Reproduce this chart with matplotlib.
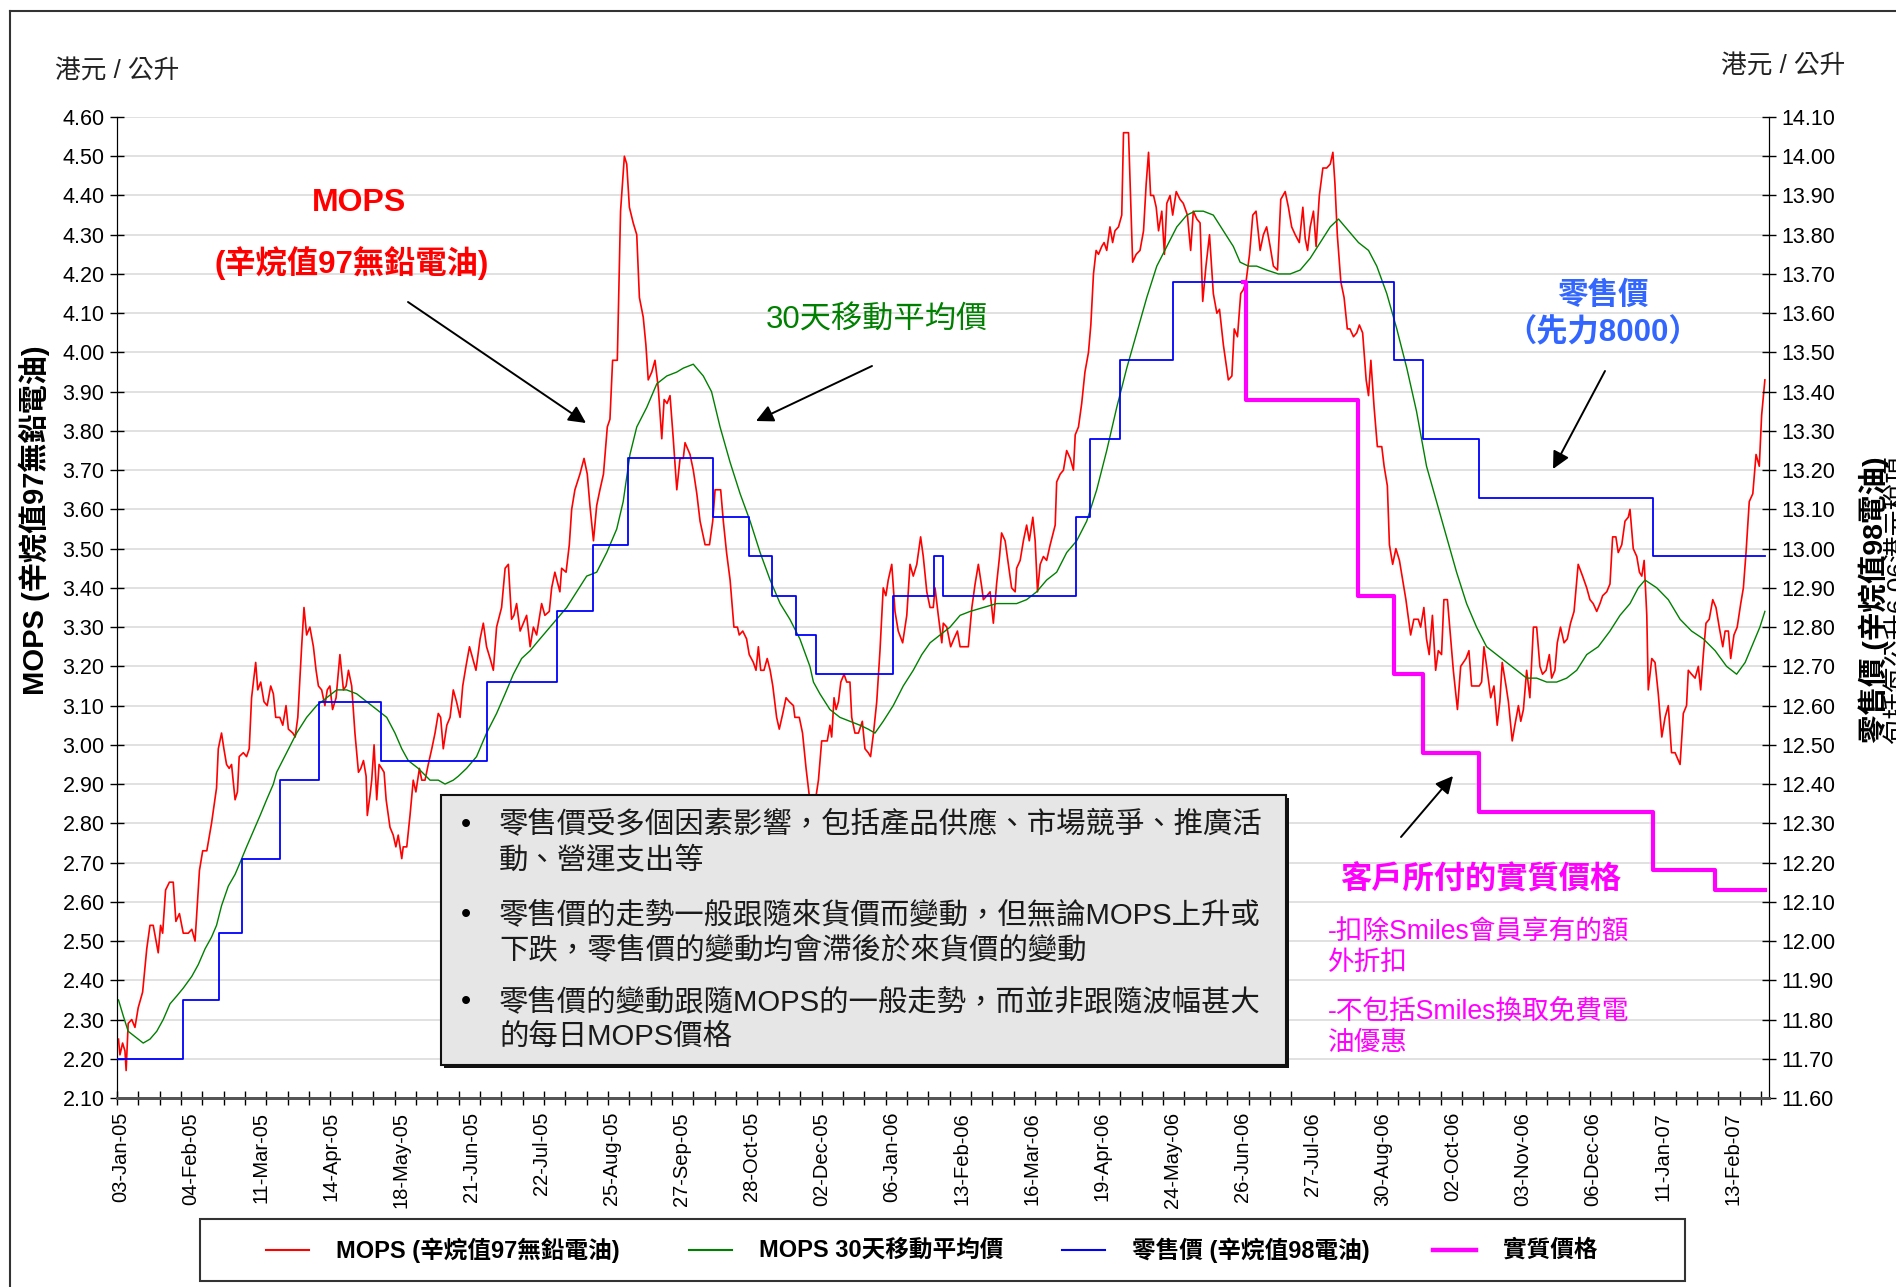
import numpy as np
import matplotlib
matplotlib.use('Agg')
import matplotlib.pyplot as plt
from matplotlib.lines import Line2D
from matplotlib.patches import Rectangle

plt.rcParams['font.family'] = ['Liberation Sans', 'Noto Sans CJK TC', 'DejaVu Sans']

W, H = 1896, 1287

date_labels = ['03-Jan-05', '04-Feb-05', '11-Mar-05', '14-Apr-05', '18-May-05', '21-Jun-05',
               '22-Jul-05', '25-Aug-05', '27-Sep-05', '28-Oct-05', '02-Dec-05', '06-Jan-06',
               '13-Feb-06', '16-Mar-06', '19-Apr-06', '24-May-06', '26-Jun-06', '27-Jul-06',
               '30-Aug-06', '02-Oct-06', '03-Nov-06', '06-Dec-06', '11-Jan-07', '13-Feb-07']

# MOPS daily price (trading-day index, HK$/litre)
mops_day = [
    0, 0.5, 1.4, 2.2, 2.6, 3.3, 4.5, 5.6, 6.7, 8.2, 9.6, 10.7, 11.8, 13.5, 14.3, 15.0, 16.0, 17.3,
    18.6, 19.5, 20.7, 22.0, 23.7, 24.9, 26.0, 27.5, 28.6, 30.0, 31.6, 33.3, 33.9, 35.0, 35.8, 36.7,
    37.6, 38.4, 39.6, 40.4, 41.0, 42.4, 43.5, 44.4, 45.2, 46.6, 47.3, 48.3, 49.4, 50.5, 51.7, 52.6,
    53.4, 54.8, 55.8, 56.9, 57.7, 59.2, 60.0, 60.9, 62.2, 63.0, 63.9, 65.0, 66.2, 67.1, 67.9, 69.0,
    70.1, 70.9, 71.8, 72.7, 73.9, 75.2, 76.4, 77.3, 78.1, 79.2, 80.3, 81.5, 82.3, 83.2, 84.1, 84.5,
    85.4, 86.0, 86.8, 87.7, 88.5, 89.4, 90.2, 90.9, 92.2, 93.3, 94.2, 95.0, 96.2, 96.7, 97.9, 99.0,
    100.1, 101.0, 102.2, 103.0, 104.1, 105.2, 106.4, 107.5, 108.6, 109.4, 110.3, 111.5, 112.6,
    113.7, 114.8, 116.0, 116.9, 118.0, 119.2, 120.3, 121.4, 122.8, 123.9, 125.0, 126.2, 127.3,
    128.4, 130.1, 131.3, 132.4, 133.5, 134.3, 135.2, 136.4, 137.5, 138.6, 139.8, 140.9, 142.0,
    143.7, 144.8, 146.3, 147.1, 148.2, 149.9, 150.5, 152.0, 153.1, 153.9, 155.0, 156.7, 158.1,
    159.2, 160.1, 161.3, 162.4, 163.5, 164.7, 166.0, 166.9, 167.8, 169.4, 170.5, 171.8, 172.6,
    173.5, 174.8, 176.0, 176.9, 178.2, 179.1, 179.9, 181.1, 182.2, 183.3, 184.5, 185.3, 186.3,
    187.3, 188.4, 189.6, 190.7, 191.8, 192.4, 194.1, 195.2, 196.4, 197.5, 199.2, 200.7, 201.8,
    202.6, 203.7, 204.5, 205.4, 206.5, 207.7, 209.0, 210.2, 210.8, 212.0, 213.3, 214.2, 215.6,
    216.5, 217.3, 218.1, 219.2, 220.3, 221.3, 222.2, 223.5, 224.4, 225.6, 226.7, 227.8, 229.2,
    229.7, 231.2, 232.3, 233.5, 234.6, 235.7, 236.9, 237.7, 238.8, 240.0, 240.7, 241.6, 242.2,
    243.0, 243.7, 244.5, 245.3, 246.4, 247.3, 248.4, 249.0, 250.1, 251.3, 252.6, 253.5, 254.6,
    255.4, 256.4, 257.5, 258.6, 259.7, 260.6, 261.4, 262.6, 263.7, 264.8, 266.3, 267.7, 268.8,
    269.9, 271.1, 272.4, 273.3, 274.5, 275.6, 276.7, 277.3, 278.4, 279.6, 280.1, 281.3, 282.6,
    283.7, 284.9, 285.8, 287.5, 288.6, 289.8, 290.9, 292.0, 293.2, 293.7, 294.9, 296.0, 297.1,
    298.2, 299.2, 299.9, 301.1, 302.2, 303.3, 304.5, 305.0, 306.2, 307.3, 308.4, 309.3, 310.5,
    311.3, 312.1, 313.0, 314.1, 315.2, 316.4, 318.1, 318.6, 319.8, 320.9, 322.0, 323.2, 324.3,
    324.9, 326.0, 327.1, 328.2, 329.4, 330.2, 331.1, 332.0, 332.8, 333.9, 334.7, 335.6, 336.7,
    337.6, 338.4, 339.6, 340.7, 341.3, 343.0, 344.4, 345.6, 346.9, 348.1, 349.0, 349.8, 350.5,
    351.5, 352.4, 353.2, 354.3, 355.2, 356.0, 357.1, 358.0, 359.2, 360.5, 361.6, 363.0, 364.1,
    365.0, 366.2, 367.3, 368.2, 369.3, 370.5, 371.8, 373.0, 373.9, 375.2, 376.9, 378.1, 378.9,
    380.0, 381.1, 382.0, 382.9, 384.1, 385.2, 386.3, 387.7, 388.8, 389.9, 391.1, 392.2, 393.6,
    394.7, 396.2, 397.3, 398.4, 399.6, 401.0, 402.2, 403.0, 403.8, 404.7, 405.8, 406.7, 407.8,
    409.0, 410.3, 411.5, 412.4, 413.1, 413.9, 415.1, 416.2, 417.3, 418.2, 419.4, 420.5, 421.4,
    422.5, 423.7, 424.5, 425.3, 426.4, 427.5, 429.0, 429.8, 430.9, 431.6, 432.7, 433.8, 435.0,
    436.1, 437.2, 438.8, 439.9, 441.4, 442.2, 443.3, 444.2, 445.1, 446.2, 447.3, 448.2, 449.3,
    450.1, 451.3, 452.2, 453.3, 454.7, 455.8, 456.7, 457.6, 458.6, 459.5, 461.0, 462.1, 462.9,
    463.7, 464.8, 466.0, 467.1, 468.2, 469.1, 469.9, 471.2, 472.0, 473.3, 474.2, 475.4, 476.2,
    477.1, 478.2, 479.3, 480.5, 481.6, 482.7, 483.6, 484.8, 485.9, 486.7, 487.8, 488.6, 489.7,
    490.9, 492.0, 493.1, 494.3, 495.7, 497.2, 498.6, 499.7, 500.8, 502.0, 503.1, 504.0, 505.4,
    506.5, 507.4, 508.5, 509.3, 510.5, 511.6, 512.7, 513.3, 514.4, 515.6, 516.5, 517.3, 518.1,
    519.0, 519.5, 520.7, 521.8, 522.9, 524.1, 525.2, 526.3, 527.4, 528.6, 530.3, 531.4, 532.5,
    533.1, 534.2, 535.4, 536.5, 537.3, 538.2, 539.1, 540.2, 541.4, 542.5, 543.6, 544.8, 545.6,
    546.7, 547.5, 548.6, 549.7, 550.9, 551.8, 552.7, 553.8, 555.0, 556.1, 557.2, 558.0, 559.1]
mops_price = [
    2.25, 2.21, 2.24, 2.22, 2.17, 2.29, 2.30, 2.28, 2.33, 2.37, 2.48, 2.54, 2.54, 2.47, 2.54, 2.52, 2.63, 2.65,
    2.65, 2.55, 2.57, 2.52, 2.52, 2.53, 2.50, 2.68, 2.73, 2.73, 2.80, 2.89, 2.99, 3.03, 2.99, 2.95,
    2.94, 2.95, 2.86, 2.88, 2.97, 2.98, 2.97, 2.99, 3.12, 3.21, 3.14, 3.16, 3.11, 3.10, 3.15, 3.13,
    3.07, 3.07, 3.05, 3.10, 3.04, 3.03, 3.02, 3.07, 3.25, 3.35, 3.28, 3.30, 3.25, 3.19, 3.15, 3.14,
    3.10, 3.14, 3.15, 3.09, 3.12, 3.23, 3.14, 3.15, 3.19, 3.15, 3.03, 2.93, 2.94, 2.96, 2.92, 2.82,
    2.87, 2.91, 3.00, 2.86, 2.95, 2.94, 2.93, 2.86, 2.79, 2.77, 2.74, 2.77, 2.71, 2.74, 2.74, 2.82,
    2.91, 2.88, 2.94, 2.91, 2.91, 2.95, 2.99, 3.03, 3.08, 3.07, 2.99, 3.05, 3.07,
    3.14, 3.11, 3.07, 3.15, 3.20, 3.25, 3.22, 3.19, 3.27, 3.31, 3.25, 3.22, 3.19,
    3.30, 3.35, 3.45, 3.46, 3.32, 3.33, 3.36, 3.29, 3.31, 3.33, 3.25, 3.30, 3.28,
    3.36, 3.33, 3.34, 3.40, 3.44, 3.39, 3.45, 3.44, 3.51, 3.60, 3.65, 3.69, 3.73,
    3.69, 3.61, 3.52, 3.61, 3.65, 3.69, 3.81, 3.83, 3.98, 3.98, 4.36, 4.50, 4.48,
    4.37, 4.33, 4.30, 4.14, 4.09, 4.02, 3.93, 3.95, 3.98, 3.91, 3.78, 3.88, 3.87,
    3.89, 3.78, 3.65, 3.73, 3.73, 3.77, 3.74, 3.70, 3.64, 3.57, 3.51, 3.51, 3.57,
    3.65, 3.65, 3.65, 3.57, 3.49, 3.42, 3.30, 3.30, 3.28, 3.29, 3.27, 3.23, 3.21,
    3.19, 3.25, 3.19, 3.19, 3.22, 3.19, 3.15, 3.07, 3.04, 3.08, 3.12, 3.11, 3.10,
    3.07, 3.07, 3.03, 2.94, 2.87, 2.86, 2.87, 2.91, 3.01, 3.01, 3.01, 3.05, 3.02,
    3.12, 3.09, 3.11, 3.16, 3.18, 3.16, 3.16, 3.07, 3.03, 3.03, 3.06, 2.99, 2.98,
    2.97, 3.03, 3.11, 3.24, 3.40, 3.38, 3.42, 3.46, 3.34, 3.29, 3.26, 3.33, 3.46,
    3.43, 3.46, 3.53, 3.48, 3.39, 3.35, 3.35, 3.40, 3.33, 3.26, 3.31, 3.30, 3.25,
    3.27, 3.29, 3.25, 3.25, 3.25, 3.35, 3.41, 3.46, 3.40, 3.37, 3.38, 3.39, 3.31,
    3.41, 3.48, 3.54, 3.52, 3.46, 3.40, 3.39, 3.45, 3.47, 3.52, 3.56, 3.52, 3.58,
    3.52, 3.39, 3.46, 3.48, 3.47, 3.51, 3.56, 3.67, 3.69, 3.70, 3.75, 3.73, 3.70,
    3.79, 3.81, 3.87, 3.95, 4.00, 4.07, 4.20, 4.26, 4.25, 4.27, 4.28, 4.26, 4.32,
    4.28, 4.31, 4.32, 4.35, 4.56, 4.56, 4.23, 4.25, 4.26, 4.31, 4.43, 4.51, 4.40,
    4.40, 4.37, 4.31, 4.36, 4.25, 4.38, 4.40, 4.35, 4.41, 4.39, 4.38, 4.35, 4.26,
    4.36, 4.34, 4.33, 4.13, 4.22, 4.30, 4.15, 4.10, 4.11, 4.02, 3.93, 3.94, 4.06,
    4.04, 4.15, 4.16, 4.18, 4.25, 4.35, 4.36, 4.26, 4.30, 4.32, 4.27, 4.22, 4.21,
    4.39, 4.41, 4.37, 4.32, 4.30, 4.28, 4.37, 4.29, 4.26, 4.32, 4.36, 4.27, 4.40,
    4.47, 4.47, 4.48, 4.51, 4.43, 4.30, 4.18, 4.14, 4.06, 4.06, 4.04, 4.05, 4.07,
    4.05, 3.93, 3.89, 3.98, 3.86, 3.76, 3.76, 3.71, 3.66, 3.51, 3.46, 3.50, 3.47,
    3.42, 3.37, 3.28, 3.32, 3.32, 3.30, 3.35, 3.27, 3.23, 3.33, 3.19, 3.24, 3.23,
    3.37, 3.37, 3.29, 3.19, 3.09, 3.20, 3.21, 3.22, 3.24, 3.15, 3.15, 3.15, 3.16,
    3.25, 3.19, 3.12, 3.15, 3.05, 3.11, 3.21, 3.15, 3.11, 3.01, 3.05, 3.10, 3.06,
    3.09, 3.19, 3.12, 3.30, 3.30, 3.20, 3.18, 3.19, 3.23, 3.17, 3.19, 3.26, 3.30,
    3.26, 3.27, 3.31, 3.34, 3.46, 3.43, 3.40, 3.37, 3.36, 3.34, 3.36, 3.38, 3.39,
    3.41, 3.53, 3.53, 3.49, 3.51, 3.57, 3.58, 3.60, 3.50, 3.48, 3.44, 3.43, 3.47,
    3.33, 3.14, 3.22, 3.21, 3.13, 3.02, 3.07, 3.10, 2.98, 2.98, 2.95, 3.08, 3.10,
    3.19, 3.18, 3.17, 3.20, 3.14, 3.23, 3.31, 3.32, 3.37, 3.35, 3.30, 3.25, 3.29,
    3.29, 3.22, 3.28, 3.30, 3.36, 3.40, 3.49, 3.62, 3.64, 3.74, 3.71, 3.84, 3.93]

# MOPS 30-day moving average
ma_day = [
    0, 1.6, 3.3, 5.0, 6.7, 8.4, 10.7, 13.0, 15.2, 17.5, 19.8, 22.0, 24.9, 27.1, 29.4, 31.6, 33.3, 35.0,
    37.3, 39.6, 41.3, 43.5, 45.8, 48.1, 50.3, 52.6, 53.7, 57.1, 60.5, 63.9, 67.3, 70.7, 74.1, 77.5,
    80.9, 84.3, 87.7, 91.1, 93.9, 96.2, 98.4, 101.8, 105.8, 108.6, 110.9, 113.7, 115.4, 118.2,
    121.6, 125.0, 128.4, 131.3, 134.1, 136.9, 139.8, 142.0, 145.4, 148.8, 152.2, 155.6, 159.0,
    162.4, 165.8, 169.2, 171.4, 173.7, 176.0, 179.4, 182.8, 186.2, 189.6, 191.8, 195.2, 198.6,
    201.4, 204.3, 207.7, 211.1, 214.5, 217.9, 221.3, 224.7, 228.0, 231.4, 234.8, 236.0, 238.2,
    241.6, 245.0, 248.4, 251.8, 254.6, 256.9, 259.7, 263.1, 266.5, 269.9, 272.8, 275.6, 279.0,
    282.4, 285.8, 289.2, 293.7, 298.2, 302.8, 305.0, 308.4, 311.8, 315.2, 318.6, 322.0, 325.4,
    328.8, 332.2, 335.6, 339.0, 342.4, 345.8, 349.2, 352.6, 356.0, 359.4, 362.8, 365.6, 368.4,
    371.8, 375.2, 378.6, 380.9, 383.7, 386.5, 389.9, 393.9, 397.9, 401.3, 404.7, 408.1, 411.5,
    414.3, 417.7, 421.1, 424.5, 427.3, 430.7, 434.1, 437.5, 440.8, 444.2, 447.6, 451.0, 454.4,
    457.8, 461.2, 464.6, 468.0, 471.4, 474.8, 478.2, 481.6, 485.0, 488.4, 491.8, 495.2, 498.6,
    502.5, 506.5, 509.9, 513.3, 516.1, 518.4, 522.4, 526.3, 530.3, 534.2, 538.2, 542.2, 546.1,
    549.5, 552.4, 555.2, 557.4, 559.1]
ma_price = [
    2.35, 2.31, 2.27, 2.26, 2.25, 2.24, 2.25, 2.27, 2.30, 2.34, 2.36, 2.38, 2.41, 2.44, 2.48, 2.51, 2.54, 2.59,
    2.64, 2.67, 2.70, 2.74, 2.78, 2.82, 2.86, 2.90, 2.93, 2.98, 3.03, 3.07, 3.10, 3.12, 3.14, 3.14,
    3.13, 3.11, 3.09, 3.07, 3.03, 2.99, 2.96, 2.94, 2.91, 2.91, 2.90, 2.91, 2.92, 2.94,
    2.97, 3.03, 3.08, 3.13, 3.18, 3.22, 3.24, 3.26, 3.29, 3.32, 3.35, 3.39, 3.43,
    3.44, 3.49, 3.55, 3.62, 3.74, 3.81, 3.86, 3.92, 3.94, 3.95, 3.96, 3.97, 3.94,
    3.90, 3.81, 3.72, 3.64, 3.57, 3.49, 3.42, 3.36, 3.32, 3.27, 3.20, 3.16, 3.13,
    3.09, 3.07, 3.06, 3.05, 3.04, 3.03, 3.06, 3.10, 3.15, 3.19, 3.23, 3.26, 3.28,
    3.30, 3.33, 3.34, 3.35, 3.36, 3.36, 3.36, 3.37, 3.39, 3.42, 3.44, 3.49, 3.52,
    3.57, 3.65, 3.75, 3.86, 3.96, 4.05, 4.14, 4.22, 4.27, 4.32, 4.35, 4.36, 4.36,
    4.35, 4.31, 4.27, 4.23, 4.22, 4.22, 4.21, 4.20, 4.20, 4.21, 4.24, 4.28, 4.32,
    4.34, 4.31, 4.28, 4.26, 4.22, 4.15, 4.06, 3.96, 3.85, 3.71, 3.62, 3.53, 3.44,
    3.36, 3.30, 3.25, 3.23, 3.21, 3.19, 3.17, 3.17, 3.16, 3.16, 3.17, 3.19, 3.23,
    3.25, 3.29, 3.33, 3.36, 3.40, 3.42, 3.40, 3.37, 3.32, 3.29, 3.27, 3.24, 3.20,
    3.18, 3.21, 3.26, 3.30, 3.34]

# retail price (Shell V-Power 8000), HK$/litre: day each level starts and the level
retail_day = [0, 22, 34, 42, 55, 68, 89, 125, 149, 161, 173, 202, 214, 222, 230, 237, 263,
              277, 280, 325, 330, 340, 358, 433, 443, 462, 521]
retail_price = [11.70, 11.85, 12.02, 12.21, 12.41, 12.61, 12.46, 12.66, 12.84, 13.01, 13.23,
                13.08, 12.98, 12.88, 12.78, 12.68, 12.88, 12.98, 12.88, 13.08, 13.28, 13.48,
                13.68, 13.48, 13.28, 13.13, 12.98]
# effective price paid by customers
net_day = [382, 383, 421, 433, 443, 462, 521, 542]
net_price = [13.68, 13.38, 12.88, 12.68, 12.48, 12.33, 12.18, 12.13]
last_day = 559

legend_labels = ['MOPS (辛烷值97無鉛電油)', 'MOPS 30天移動平均價', '零售價 (辛烷值98電油)', '實質價格']


def fpos(x, y):
    # reference pixel (top-left origin) -> figure fraction
    return x / W, 1 - y / H


fig = plt.figure(figsize=(W / 100, H / 100), dpi=100)
ax = fig.add_axes([117 / W, 1 - 1098 / H, (1769 - 117) / W, (1098 - 117) / H])
ax2 = ax.twinx()

ax.plot(mops_day, mops_price, color='#ff0000', lw=1.2, zorder=3)
ax.plot(ma_day, ma_price, color='#008000', lw=1.0, zorder=3)
ax2.step(retail_day + [last_day], retail_price + [retail_price[-1]], where='post',
         color='#0000ff', lw=1.3, zorder=3)
ax2.step(net_day + [last_day], net_price + [net_price[-1]], where='post',
         color='#ff00ff', lw=3.0, zorder=4)

ax.set_xlim(-0.5, 560.5)
ax.set_ylim(2.10, 4.60)
ax2.set_ylim(11.60, 14.10)
ax.set_yticks(np.round(np.arange(2.10, 4.601, 0.1), 2))
ax2.set_yticks(np.round(np.arange(11.60, 14.101, 0.1), 2))
ax.set_yticklabels([f'{v:.2f}' for v in ax.get_yticks()])
ax2.set_yticklabels([f'{v:.2f}' for v in ax2.get_yticks()])
ax.grid(axis='y', color='#dcdcdc', lw=1.2)
ax.set_axisbelow(True)

date_pos = np.arange(len(date_labels)) * 23.8 + 0.9
ax.set_xticks(date_pos)
ax.set_xticklabels(date_labels, rotation=90, fontsize=14.5)
ax.set_xticks(np.arange(-0.5, 561, 7.25), minor=True)
ax.tick_params(axis='x', which='major', length=0, pad=10)
ax.tick_params(axis='x', which='minor', direction='inout', length=10, width=1)
ax.tick_params(axis='y', direction='inout', length=10, width=1, labelsize=15.5, pad=4)
ax2.tick_params(axis='y', direction='inout', length=10, width=1, labelsize=15.5, pad=4)

for a in (ax, ax2):
    a.spines['top'].set_visible(False)
    a.spines['bottom'].set_color('#555555')
    a.spines['bottom'].set_linewidth(2)

# unit labels and axis titles
fig.text(*fpos(117, 72), '港元 / 公升', fontsize=18.5, color='#222222', ha='center', va='center')
fig.text(*fpos(1783, 67), '港元 / 公升', fontsize=18.5, color='#222222', ha='center', va='center')
fig.text(*fpos(34, 520), 'MOPS (辛烷值97無鉛電油)', fontsize=21, fontweight='bold',
         rotation=90, ha='center', va='center')
fig.text(*fpos(1874, 600), '零售價 (辛烷值98電油)', fontsize=20.5, fontweight='bold',
         rotation=90, ha='center', va='center')
fig.text(*fpos(1886, 600), '包括每公升6.06港元稅項', fontsize=19,
         rotation=90, ha='left', va='center')

# annotations
fig.text(*fpos(359, 203), 'MOPS', color='#ff0000', fontsize=23, fontweight='bold',
         ha='center', va='center')
fig.text(*fpos(352, 263), '(辛烷值97無鉛電油)', color='#ff0000', fontsize=22.5,
         fontweight='bold', ha='center', va='center')
fig.text(*fpos(877, 321), '30天移動平均價', color='#008000', fontsize=22.5,
         ha='center', va='center')
fig.text(*fpos(1603, 296), '零售價', color='#3366ff', fontsize=22, fontweight='bold',
         ha='center', va='center')
fig.text(*fpos(1603, 333), '（先力8000）', color='#3366ff', fontsize=22.5, fontweight='bold',
         ha='center', va='center')
fig.text(*fpos(1481, 880), '客戶所付的實質價格', color='#ff00ff', fontsize=22.5,
         fontweight='bold', ha='center', va='center')
for y, s in [(933, '-扣除Smiles會員享有的額'), (963, '外折扣'),
             (1013, '-不包括Smiles換取免費電'), (1043, '油優惠')]:
    fig.text(*fpos(1328, y), s, color='#ff00ff', fontsize=19.2, ha='left', va='center')

arrows = [((408, 302), (586, 423)), ((872, 366), (756, 421)),
          ((1605, 371), (1553, 469)), ((1401, 837), (1453, 776))]
for tail, tip in arrows:
    ax.annotate('', xy=fpos(*tip), xytext=fpos(*tail), xycoords='figure fraction',
                textcoords='figure fraction', annotation_clip=False,
                arrowprops=dict(arrowstyle='-|>', color='black', lw=1.4,
                                mutation_scale=26, shrinkA=0, shrinkB=0))

# note box
fig.add_artist(Rectangle(fpos(444, 1068), (1286 - 441) / W, (1065 - 795) / H,
                         transform=fig.transFigure, facecolor='#111111', edgecolor='none', zorder=10))
fig.add_artist(Rectangle(fpos(441, 1065), (1286 - 441) / W, (1065 - 795) / H,
                         transform=fig.transFigure, facecolor='#e6e6e6', edgecolor='#111111',
                         lw=1.5, zorder=11))
notes = [(825, '零售價受多個因素影響，包括產品供應、市場競爭、推廣活', True),
         (860, '動、營運支出等', False),
         (915, '零售價的走勢一般跟隨來貨價而變動，但無論MOPS上升或', True),
         (950, '下跌，零售價的變動均會滯後於來貨價的變動', False),
         (1002, '零售價的變動跟隨MOPS的一般走勢，而並非跟隨波幅甚大', True),
         (1037, '的每日MOPS價格', False)]
for y, s, bullet in notes:
    if bullet:
        fig.text(*fpos(466, y), '•', fontsize=21, ha='center', va='center', zorder=12)
    fig.text(*fpos(499, y), s, fontsize=21.2, color='#1a1a1a', ha='left', va='center', zorder=12)

# legend (drawn by hand to match the wide, evenly spread box)
fig.add_artist(Rectangle(fpos(200, 1281), (1685 - 200) / W, (1281 - 1219) / H,
                         transform=fig.transFigure, fill=False, edgecolor='#333333', lw=1.5))
legend_colors = ['#ff0000', '#008000', '#0000ff', '#ff00ff']
legend_widths = [1.5, 1.5, 1.5, 3.2]
legend_handle_x = [266, 689, 1062, 1433]
for label, color, lw, hx in zip(legend_labels, legend_colors, legend_widths, legend_handle_x):
    x0, y0 = fpos(hx, 1250)
    x1, _ = fpos(hx + 43, 1250)
    fig.add_artist(Line2D([x0, x1], [y0, y0], transform=fig.transFigure, color=color, lw=lw))
    fig.text(*fpos(hx + 70, 1250), label, fontsize=17, fontweight='bold',
             ha='left', va='center')

# outer frame of the slide
fig.add_artist(Line2D([10 / W, 10 / W], [0, 1 - 11 / H], transform=fig.transFigure,
                      color='#333333', lw=1.5))
fig.add_artist(Line2D([10 / W, 1], [1 - 11 / H, 1 - 11 / H], transform=fig.transFigure,
                      color='#333333', lw=1.5))

fig.savefig('out.png', dpi=100)
